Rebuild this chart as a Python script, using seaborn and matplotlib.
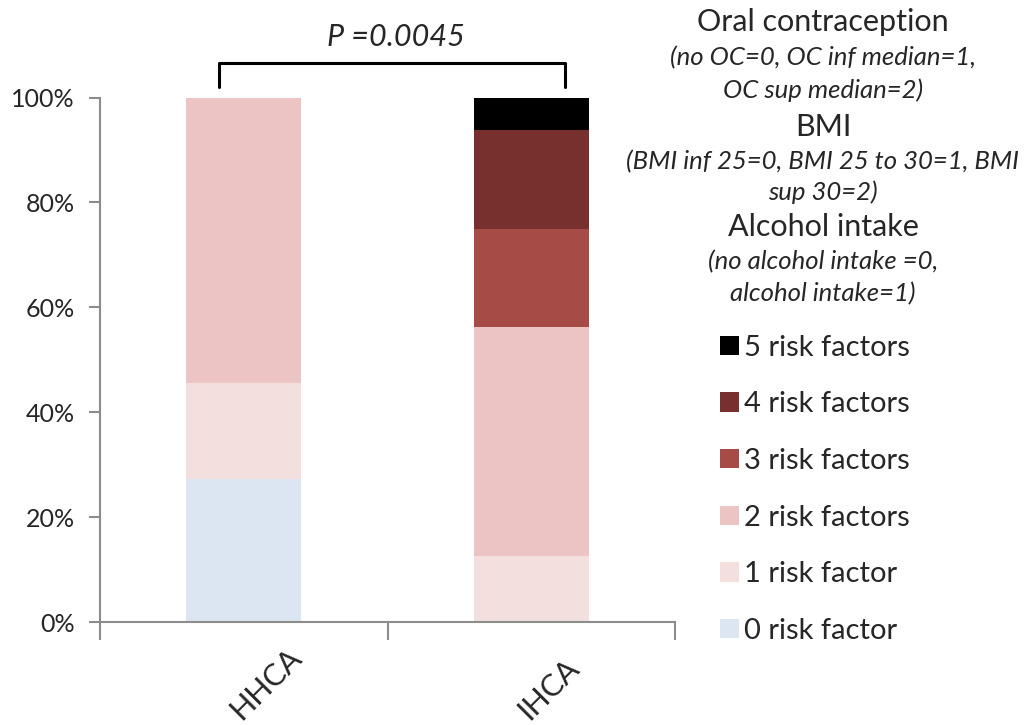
import numpy as np
import pandas as pd
import matplotlib
matplotlib.use("Agg")
import matplotlib.pyplot as plt
import matplotlib.transforms as mtransforms
from matplotlib.patches import Patch
import seaborn as sns

# stacked percentages (bottom -> top)
groups = ["HHCA", "IHCA"]
levels = ["0 risk factor", "1 risk factor", "2 risk factors",
          "3 risk factors", "4 risk factors", "5 risk factors"]
hhca = [27.3, 18.2, 54.5, 0, 0, 0]
ihca = [0, 12.5, 43.75, 18.75, 18.75, 6.25]
colors = ["#DCE6F2", "#F2DFDE", "#EBC4C3", "#A64B45", "#78302E", "#000000"]

headers = [
    ("Oral contraception", "normal"),
    ("(no OC=0, OC inf median=1,", "italic"),
    ("OC sup median=2)", "italic"),
    ("BMI", "normal"),
    ("(BMI inf 25=0, BMI 25 to 30=1, BMI", "italic"),
    ("sup 30=2)", "italic"),
    ("Alcohol intake", "normal"),
    ("(no alcohol intake =0,", "italic"),
    ("alcohol intake=1)", "italic"),
]
p_text = "P =0.0045"

sns.set_style("white")
plt.rcParams["font.family"] = ["Lato", "DejaVu Sans"]

df = pd.DataFrame({"group": groups * len(levels),
                   "level": np.repeat(levels, 2),
                   "pct": np.ravel(np.column_stack([hhca, ihca]))})
df["cum"] = df.groupby("group")["pct"].cumsum() / 100

fig = plt.figure(figsize=(10.32, 7.25), dpi=100)
ax = fig.add_axes([100 / 1032, 103 / 725, 575 / 1032, 524.5 / 725])

# draw cumulative bars from the top level down so each one covers the next
for lvl, col in reversed(list(zip(levels, colors))):
    sub = df[df["level"] == lvl]
    sns.barplot(data=sub, x="group", y="cum", order=groups, color=col,
                width=0.4, saturation=1, edgecolor="none", ax=ax)

ax.set_xlim(-0.5, 1.5)
ax.set_ylim(0, 1)
ax.set_xlabel("")
ax.set_ylabel("")
ax.set_yticks(np.arange(0, 1.01, 0.2))
ax.set_yticklabels([f"{int(round(v * 100))}%" for v in np.arange(0, 1.01, 0.2)])
ax.tick_params(axis="y", direction="out", length=8, width=1.5, color="#8C8C8C",
               pad=10, labelsize=18, left=True)
for s in ["top", "right"]:
    ax.spines[s].set_visible(False)
for s in ["left", "bottom"]:
    ax.spines[s].set_color("#8C8C8C")
    ax.spines[s].set_linewidth(1.5)

ax.set_xticks([-0.5, 0.5, 1.5], minor=True)
ax.tick_params(axis="x", which="minor", direction="out", length=13, width=1.5,
               color="#8C8C8C", bottom=True)
ax.tick_params(axis="x", which="major", length=0, pad=71, labelsize=22)
shift = mtransforms.ScaledTranslation(-2 / 100, 0, fig.dpi_scale_trans)
for lab in ax.get_xticklabels():
    lab.set_rotation(45)
    lab.set_rotation_mode("anchor")
    lab.set_ha("left")
    lab.set_va("baseline")
    lab.set_transform(lab.get_transform() + shift)

# significance bracket
ax.plot([-0.087, -0.087, 1.118, 1.118], [1.02, 1.066, 1.066, 1.02],
        color="black", lw=2.2, clip_on=False)
ax.text(0.53, 1.115, p_text, ha="center", va="center", fontsize=22,
        style="italic", transform=ax.transData, clip_on=False)

# legend header text
ys = [22, 58, 90, 127, 162, 192, 227, 262, 294]
for (txt, st), y in zip(headers, ys):
    fig.text(823 / 1032, 1 - y / 725, txt, ha="center", va="center",
             fontsize=22 if st == "normal" else 18.5, style=st)

handles = [Patch(facecolor=c, edgecolor="none") for c in colors][::-1]
fig.legend(handles, levels[::-1], loc="upper left",
           bbox_to_anchor=(708 / 1032, 1 - 323 / 725), frameon=False,
           fontsize=21, handlelength=0.65, handleheight=0.65,
           handletextpad=0.2, labelspacing=1.05, borderaxespad=0)

fig.savefig("out.png", dpi=100)
